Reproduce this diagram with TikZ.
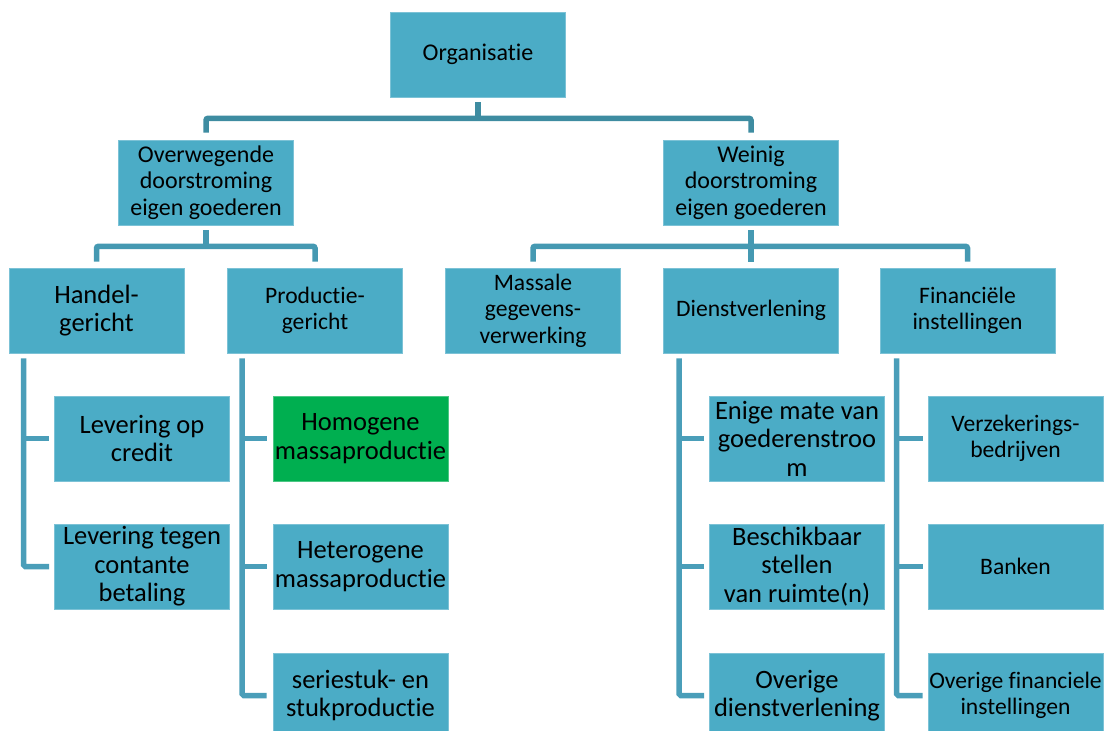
\documentclass[tikz,border=0pt]{standalone}
\usepackage{fontspec}
\setmainfont{Carlito}[Ligatures=NoCommon]
\definecolor{boxfill}{HTML}{4BACC6}
\definecolor{boxedge}{HTML}{7CC2D6}
\definecolor{hilite}{HTML}{00AF50}
\definecolor{lineA}{HTML}{3E8CA1}
\definecolor{lineB}{HTML}{4599B2}
\definecolor{lineC}{HTML}{4A9EB9}
\tikzset{
  box/.style={rectangle, fill=boxfill, draw=boxedge, line width=0.6pt,
    minimum width=175pt, minimum height=85pt, inner sep=0pt,
    align=center, text=black},
  greenbox/.style={box, fill=hilite, draw=hilite!70!white},
  fbig/.style={font=\fontsize{26.5pt}{28.5pt}\selectfont},
  fmid/.style={font=\fontsize{24pt}{26.6pt}\selectfont},
  fsm/.style={font=\fontsize{23.6pt}{26.4pt}\selectfont},
  conA/.style={draw=lineA, line width=5.5pt, rounded corners=2pt},
  conB/.style={draw=lineB, line width=5.5pt, rounded corners=2pt},
  conC/.style={draw=lineC, line width=5.5pt, rounded corners=1.5pt},
}
\begin{document}
\begin{tikzpicture}[x=1pt, y=-1pt]
\useasboundingbox (0,0) rectangle (1104,731);

% top levels
\node[box, fmid] (org) at (478,54.5) {Organisatie};
\node[box, fmid] (ow) at (206,182.5) {Overwegende\\doorstroming\\eigen goederen};
\node[box, fmid] (wd) at (751,182.5) {Weinig\\doorstroming\\eigen goederen};

% third level
\node[box, fbig] (hg) at (96.5,310.5) {Handel-\\gericht};
\node[box, fsm] (pg) at (315,310.5) {Productie-\\gericht};
\node[box, fsm] (mg) at (533,310.5) {Massale\\gegevens-\\verwerking};
\node[box, fsm] (dv) at (751,310.5) {Dienstverlening};
\node[box, fsm] (fi) at (967.5,310.5) {Financiële\\instellingen};

% leaves
\node[box, fbig] (lc) at (142,438.5) {Levering op\\credit};
\node[box, fbig] (lt) at (142,566.5) {Levering tegen\\contante\\betaling};

\node[greenbox, fbig] (hm) at (360.5,438.5) {Homogene\\massaproductie};
\node[box, fbig] (ht) at (360.5,566.5) {Heterogene\\massaproductie};
\node[box, fbig] (ss) at (360.5,695.5) {seriestuk- en\\stukproductie};

\node[box, fbig] (em) at (797,438.5) {Enige mate van\\goederenstroo\\m};
\node[box, fbig] (bs) at (797,566.5) {Beschikbaar\\stellen\\van ruimte(n)};
\node[box, fbig] (od) at (797,695.5) {Overige\\dienstverlening};

\node[box, fsm] (vz) at (1015.5,438.5) {Verzekerings-\\bedrijven};
\node[box, fsm] (bk) at (1015.5,566.5) {Banken};
\node[box, fsm] (of) at (1015.5,695.5) {Overige financiele\\instellingen};

% connectors from the root
\coordinate (h1) at ([yshift=-21pt]org.south);
\draw[conA] ([yshift=-5pt]org.south) -- (h1);
\draw[conA] ([yshift=7pt]ow.north) |- (h1) -| ([yshift=7pt]wd.north);

% connectors to the third level
\coordinate (h2) at ([yshift=-21pt]ow.south);
\draw[conB] ([yshift=-5pt]ow.south) -- (h2);
\draw[conB] ([yshift=6pt]hg.north) |- (h2) -| ([yshift=6pt]pg.north);

\coordinate (h3) at ([yshift=-21pt]wd.south);
\draw[conB] ([yshift=-5pt]wd.south) -- ([yshift=6pt]dv.north);
\draw[conB] ([yshift=6pt]mg.north) |- (h3) -| ([yshift=6pt]fi.north);

% bracket lines to the leaves
\coordinate (v1) at ([shift={(15pt,-5pt)}]hg.south west);
\draw[conC] (v1) |- ([xshift=-5pt]lt.west);
\draw[conC] (v1 |- lc.west) -- ([xshift=-5pt]lc.west);

\coordinate (v2) at ([shift={(15pt,-5pt)}]pg.south west);
\draw[conC] (v2) |- ([xshift=-6pt]ss.west);
\draw[conC] (v2 |- hm.west) -- ([xshift=-6pt]hm.west);
\draw[conC] (v2 |- ht.west) -- ([xshift=-6pt]ht.west);

\coordinate (v3) at ([shift={(16pt,-5pt)}]dv.south west);
\draw[conC] (v3) |- ([xshift=-5pt]od.west);
\draw[conC] (v3 |- em.west) -- ([xshift=-5pt]em.west);
\draw[conC] (v3 |- bs.west) -- ([xshift=-5pt]bs.west);

\coordinate (v4) at ([shift={(17pt,-5pt)}]fi.south west);
\draw[conC] (v4) |- ([xshift=-5pt]of.west);
\draw[conC] (v4 |- vz.west) -- ([xshift=-5pt]vz.west);
\draw[conC] (v4 |- bk.west) -- ([xshift=-5pt]bk.west);
\end{tikzpicture}
\end{document}
